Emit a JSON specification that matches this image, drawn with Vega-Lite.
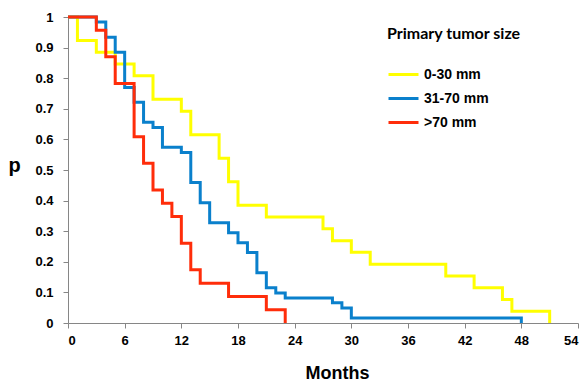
{
  "$schema": "https://vega.github.io/schema/vega-lite/v6.json",
  "width": 510,
  "height": 306,
  "autosize": {"type": "none"},
  "padding": {"left": 68, "top": 17, "right": 9, "bottom": 60},
  "background": "white",
  "config": {
    "view": {"stroke": null},
    "axis": {
      "grid": false,
      "domainColor": "#868686",
      "tickColor": "#868686",
      "tickSize": 5,
      "labelFont": "Liberation Sans",
      "labelFontWeight": "bold",
      "labelFontSize": 13,
      "labelColor": "#000000",
      "titleFont": "Liberation Sans",
      "titleFontWeight": "bold",
      "titleColor": "#000000"
    }
  },
  "data": {
    "values": [
      {"group": "0-30 mm", "month": 0, "p": 1},
      {"group": "0-30 mm", "month": 1, "p": 0.923},
      {"group": "0-30 mm", "month": 3, "p": 0.885},
      {"group": "0-30 mm", "month": 5, "p": 0.846},
      {"group": "0-30 mm", "month": 7, "p": 0.808},
      {"group": "0-30 mm", "month": 9, "p": 0.731},
      {"group": "0-30 mm", "month": 12, "p": 0.692},
      {"group": "0-30 mm", "month": 13, "p": 0.615},
      {"group": "0-30 mm", "month": 16, "p": 0.538},
      {"group": "0-30 mm", "month": 17, "p": 0.462},
      {"group": "0-30 mm", "month": 18, "p": 0.385},
      {"group": "0-30 mm", "month": 21, "p": 0.346},
      {"group": "0-30 mm", "month": 27, "p": 0.308},
      {"group": "0-30 mm", "month": 28, "p": 0.269},
      {"group": "0-30 mm", "month": 30, "p": 0.231},
      {"group": "0-30 mm", "month": 32, "p": 0.192},
      {"group": "0-30 mm", "month": 40, "p": 0.154},
      {"group": "0-30 mm", "month": 43, "p": 0.115},
      {"group": "0-30 mm", "month": 46, "p": 0.077},
      {"group": "0-30 mm", "month": 47, "p": 0.038},
      {"group": "0-30 mm", "month": 51, "p": 0},
      {"group": "31-70 mm", "month": 0, "p": 1},
      {"group": "31-70 mm", "month": 3, "p": 0.984},
      {"group": "31-70 mm", "month": 4, "p": 0.934},
      {"group": "31-70 mm", "month": 5, "p": 0.885},
      {"group": "31-70 mm", "month": 6, "p": 0.770},
      {"group": "31-70 mm", "month": 7, "p": 0.721},
      {"group": "31-70 mm", "month": 8, "p": 0.656},
      {"group": "31-70 mm", "month": 9, "p": 0.639},
      {"group": "31-70 mm", "month": 10, "p": 0.574},
      {"group": "31-70 mm", "month": 12, "p": 0.557},
      {"group": "31-70 mm", "month": 13, "p": 0.459},
      {"group": "31-70 mm", "month": 14, "p": 0.393},
      {"group": "31-70 mm", "month": 15, "p": 0.328},
      {"group": "31-70 mm", "month": 17, "p": 0.295},
      {"group": "31-70 mm", "month": 18, "p": 0.262},
      {"group": "31-70 mm", "month": 19, "p": 0.230},
      {"group": "31-70 mm", "month": 20, "p": 0.164},
      {"group": "31-70 mm", "month": 21, "p": 0.115},
      {"group": "31-70 mm", "month": 22, "p": 0.098},
      {"group": "31-70 mm", "month": 23, "p": 0.082},
      {"group": "31-70 mm", "month": 28, "p": 0.066},
      {"group": "31-70 mm", "month": 29, "p": 0.049},
      {"group": "31-70 mm", "month": 30, "p": 0.016},
      {"group": "31-70 mm", "month": 48, "p": 0},
      {"group": ">70 mm", "month": 0, "p": 1},
      {"group": ">70 mm", "month": 3, "p": 0.957},
      {"group": ">70 mm", "month": 4, "p": 0.870},
      {"group": ">70 mm", "month": 5, "p": 0.783},
      {"group": ">70 mm", "month": 7, "p": 0.609},
      {"group": ">70 mm", "month": 8, "p": 0.522},
      {"group": ">70 mm", "month": 9, "p": 0.435},
      {"group": ">70 mm", "month": 10, "p": 0.391},
      {"group": ">70 mm", "month": 11, "p": 0.348},
      {"group": ">70 mm", "month": 12, "p": 0.261},
      {"group": ">70 mm", "month": 13, "p": 0.174},
      {"group": ">70 mm", "month": 14, "p": 0.130},
      {"group": ">70 mm", "month": 17, "p": 0.087},
      {"group": ">70 mm", "month": 21, "p": 0.043},
      {"group": ">70 mm", "month": 23, "p": 0}
    ]
  },
  "mark": {"type": "line", "interpolate": "step-after", "strokeWidth": 3},
  "encoding": {
    "x": {
      "field": "month",
      "type": "quantitative",
      "scale": {"domain": [0, 54], "nice": false},
      "axis": {
        "values": [0, 6, 12, 18, 24, 30, 36, 42, 48, 54],
        "labelPadding": 6,
        "title": "Months",
        "titleFontSize": 18,
        "titleX": 269,
        "titleY": 50,
        "titleBaseline": "middle"
      }
    },
    "y": {
      "field": "p",
      "type": "quantitative",
      "scale": {"domain": [0, 1], "nice": false},
      "axis": {
        "values": [0, 0.1, 0.2, 0.3, 0.4, 0.5, 0.6, 0.7, 0.8, 0.9, 1],
        "format": "~g",
        "labelPadding": 10,
        "title": "p",
        "titleAngle": 0,
        "titleFontSize": 20,
        "titleX": -54,
        "titleY": 148,
        "titleAlign": "center",
        "titleBaseline": "middle"
      }
    },
    "color": {
      "field": "group",
      "type": "nominal",
      "sort": ["0-30 mm", "31-70 mm", ">70 mm"],
      "scale": {
        "domain": ["0-30 mm", "31-70 mm", ">70 mm"],
        "range": ["#FFFF00", "#0A80CC", "#FF2D0A"]
      },
      "legend": {
        "title": "Primary tumor size",
        "orient": "none",
        "legendX": 319,
        "legendY": 9,
        "titleFont": "Lato",
        "titleFontWeight": "bold",
        "titleFontSize": 16,
        "titleColor": "#000000",
        "titlePadding": 16,
        "labelFont": "Liberation Sans",
        "labelFontWeight": "bold",
        "labelFontSize": 14,
        "labelColor": "#000000",
        "labelOffset": 4,
        "symbolType": "stroke",
        "symbolStrokeWidth": 3,
        "symbolSize": 900,
        "rowPadding": -4
      }
    }
  }
}
